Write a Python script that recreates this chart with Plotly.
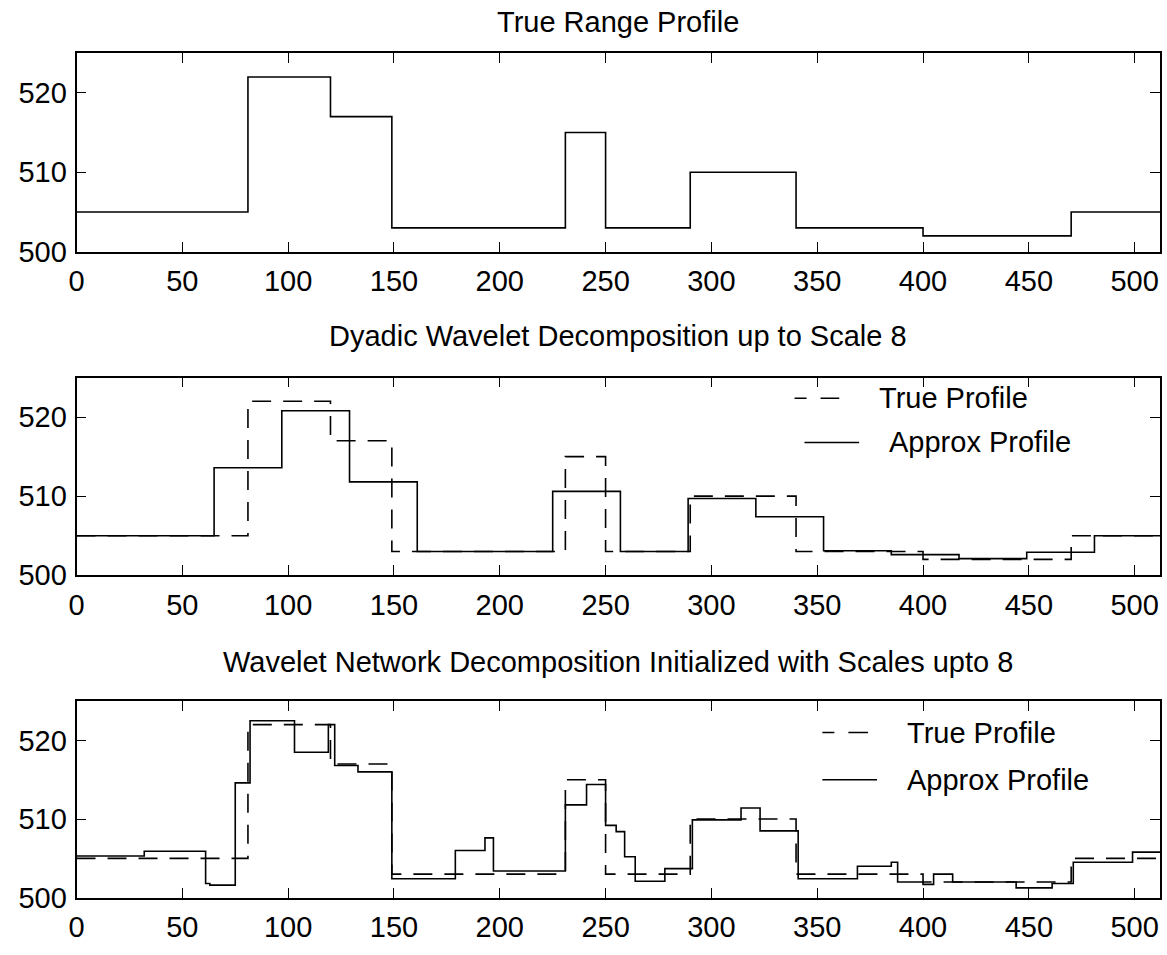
import plotly.graph_objects as go

# ---------------- data ----------------
x_end = 512

true_starts = [0, 81, 120, 149, 231, 250, 290, 340, 400, 470]
true_levels = [505, 522, 517, 503, 515, 503, 510, 503, 502, 505]

dyadic_starts = [0, 65, 97, 129, 161, 225, 257, 289, 321, 353, 385, 417, 449, 481]
dyadic_levels = [505, 513.6, 520.8, 511.8, 503, 510.6, 503, 509.7, 507.4, 503.1,
                 502.6, 502.1, 502.9, 505]

wnet_starts = [0, 32, 61, 63, 75, 82, 103, 119, 122, 133, 149, 179, 193, 197, 231,
               241, 250, 255, 259, 264, 278, 291, 314, 323, 341, 369, 385, 388,
               400, 405, 414, 444, 461, 471, 499]
wnet_levels = [505.3, 505.9, 501.8, 501.6, 514.6, 522.5, 518.5, 522.0, 516.8, 516.0,
               502.4, 506.0, 507.6, 503.4, 511.8, 514.4, 509.2, 508.4, 505.2, 502.1,
               503.7, 509.9, 511.4, 508.5, 502.4, 504.0, 504.5, 502.0, 501.7, 503.0,
               502.0, 501.25, 501.8, 504.5, 505.8]

x_ticks = list(range(0, 501, 50))
y_ticks = [500, 510, 520]
x_range = [0, 512]
y_range = [500, 525]

titles = ["True Range Profile",
          "Dyadic Wavelet Decomposition up to Scale 8",
          "Wavelet Network Decomposition Initialized with Scales upto 8"]
legend_labels = ["True Profile", "Approx Profile"]


def step(starts, levels):
    return starts + [x_end], levels + [levels[-1]]


# ---------------- layout geometry ----------------
W, H = 1167, 955
FONT = "Liberation Sans, Arial, Helvetica, sans-serif"
x_dom = [69 / W, 1160 / W]
panels_px = [(54, 256), (384, 585), (713, 913)]
y_doms = [[1 - b / H, 1 - t / H] for t, b in panels_px]
title_y_px = [22, 342, 673]

fig = go.Figure()

dash = "19px,12px"
lw = 1.6

# panel 1
xs, ys = step(true_starts, true_levels)
fig.add_trace(go.Scatter(x=xs, y=ys, mode="lines", line=dict(color="black", width=lw, shape="hv"),
                         showlegend=False, xaxis="x", yaxis="y"))
# panel 2
fig.add_trace(go.Scatter(x=xs, y=ys, mode="lines", name=legend_labels[0],
                         line=dict(color="black", width=lw, shape="hv", dash=dash),
                         xaxis="x2", yaxis="y2", showlegend=False))
dx, dy = step(dyadic_starts, dyadic_levels)
fig.add_trace(go.Scatter(x=dx, y=dy, mode="lines", name=legend_labels[1],
                         line=dict(color="black", width=lw, shape="hv"),
                         xaxis="x2", yaxis="y2", showlegend=False))
# panel 3
fig.add_trace(go.Scatter(x=xs, y=ys, mode="lines", name=legend_labels[0],
                         line=dict(color="black", width=lw, shape="hv", dash=dash),
                         xaxis="x3", yaxis="y3", showlegend=False))
wx, wy = step(wnet_starts, wnet_levels)
fig.add_trace(go.Scatter(x=wx, y=wy, mode="lines", name=legend_labels[1],
                         line=dict(color="black", width=lw, shape="hv"),
                         xaxis="x3", yaxis="y3", showlegend=False))

axis_common = dict(showline=True, linecolor="black", linewidth=1.8, mirror="ticks",
                   ticks="inside", ticklen=10, tickwidth=1.3, tickcolor="black",
                   showgrid=False, zeroline=False,
                   tickfont=dict(family=FONT, size=29, color="black"))

layout = dict(width=W, height=H, margin=dict(l=0, r=0, t=0, b=0),
              paper_bgcolor="white", plot_bgcolor="white",
              font=dict(family=FONT, color="black"), showlegend=False)

for i in range(3):
    sx = "" if i == 0 else str(i + 1)
    layout["xaxis" + sx] = dict(axis_common, domain=x_dom, range=x_range, tickvals=x_ticks,
                                anchor="y" + sx, ticklabelstandoff=3)
    layout["yaxis" + sx] = dict(axis_common, domain=y_doms[i], range=y_range, tickvals=y_ticks,
                                anchor="x" + sx, ticklabelstandoff=2)

annotations = []
for t, ty in zip(titles, title_y_px):
    annotations.append(dict(text=t, xref="paper", yref="paper", x=(x_dom[0] + x_dom[1]) / 2,
                            y=1 - ty / H, xanchor="center", yanchor="middle", showarrow=False,
                            font=dict(family=FONT, size=29, color="black")))

# hand-drawn legend keys (panel 2 and panel 3), in pixel positions of the page
legend_specs = [
    dict(d=(792, 837, 405), s=(802, 857, 450), t1=(875, 405), t2=(885, 450)),
    dict(d=(820, 866, 745), s=(820, 875, 793), t1=(903, 745), t2=(903, 793)),
]
shapes = []
for spec in legend_specs:
    x0, x1, yy = spec["d"]
    shapes.append(dict(type="line", xref="paper", yref="paper", x0=x0 / W, x1=x1 / W,
                       y0=1 - yy / H, y1=1 - yy / H,
                       line=dict(color="black", width=lw, dash="12px,14px,20px,14px")))
    x0, x1, yy = spec["s"]
    shapes.append(dict(type="line", xref="paper", yref="paper", x0=x0 / W, x1=x1 / W,
                       y0=1 - yy / H, y1=1 - yy / H, line=dict(color="black", width=lw)))
    for key, label in zip(["t1", "t2"], legend_labels):
        tx, ty = spec[key]
        annotations.append(dict(text=label, xref="paper", yref="paper", x=tx / W, y=1 - ty / H,
                                xanchor="left", yanchor="middle", showarrow=False,
                                font=dict(family=FONT, size=29, color="black")))

layout["annotations"] = annotations
layout["shapes"] = shapes

fig.update_layout(**layout)
fig.write_html("out.html")
